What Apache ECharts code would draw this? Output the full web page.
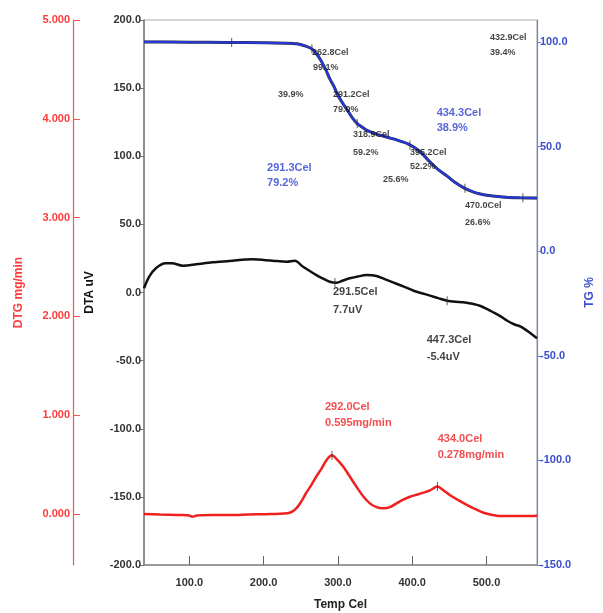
<!DOCTYPE html>
<html>
<head>
<meta charset="utf-8">
<script src="https://cdn.jsdelivr.net/npm/echarts@6/dist/echarts.min.js"></script>
<style>
html,body{margin:0;padding:0;background:#fff;}
#chart{width:603px;height:613px;}
</style>
</head>
<body>
<div id="chart"></div>
<script>
// ---------- data ----------
const xTicks = [100, 200, 300, 400, 500];
const dtaTicks = [-200, -150, -100, -50, 0, 50, 100, 150, 200];
const dtgTicks = [0, 1, 2, 3, 4, 5];
const tgTicks = [-150, -100, -50, 0, 50, 100];

// TG (%) curve
const tgTemp = [39, 60, 100, 150, 200, 230, 245, 255, 265, 272, 278, 284, 289, 295, 300, 306, 312, 319, 326, 333, 340, 350, 361, 372, 384, 395, 406, 415, 424, 435, 447, 458, 469, 480, 492, 503, 515, 530, 545, 568];
const tgVal  = [100.0, 100.0, 99.9, 99.8, 99.6, 99.4, 99.1, 98.2, 96.7, 94.0, 90.6, 86.5, 82.5, 78.5, 74.5, 71.0, 67.8, 64.0, 61.0, 59.2, 57.6, 56.2, 55.0, 53.9, 52.6, 51.2, 48.8, 46.0, 42.6, 39.0, 35.9, 32.8, 30.4, 28.6, 27.3, 26.6, 26.1, 25.7, 25.5, 25.4];

// DTA (uV) curve
const dtaTemp = [39, 46, 55, 68, 77, 91, 109, 131, 154, 185, 212, 231, 242, 253, 262, 271, 280, 289, 298, 307, 316, 327, 339, 352, 363, 375, 388, 402, 413, 424, 436, 447, 458, 469, 481, 492, 501, 510, 519, 528, 537, 546, 557, 568];
const dtaVal  = [3.1, 11.6, 17.8, 21.4, 21.4, 19.7, 20.7, 22.2, 23.1, 24.4, 23.3, 22.6, 23.3, 18.9, 15.8, 12.8, 10.2, 7.9, 7.2, 8.8, 10.4, 11.8, 12.8, 12.1, 9.8, 7.2, 4.5, 1.3, -0.5, -2.3, -4.3, -6.0, -6.8, -7.2, -8.3, -9.9, -12.2, -14.8, -17.5, -20.7, -23.3, -25.1, -29.0, -33.6];

// DTG (mg/min) curve
const dtgTemp = [39, 60, 90, 100, 104, 110, 130, 154, 180, 210, 235, 244, 251, 257, 264, 271, 278, 285, 292, 299, 307, 316, 325, 334, 343, 352, 361, 370, 379, 388, 397, 406, 415, 424, 434, 442, 451, 462, 474, 485, 496, 505, 514, 530, 550, 568];
const dtgVal  = [0.0, -0.005, -0.01, -0.015, -0.027, -0.015, -0.01, -0.01, -0.005, 0.0, 0.013, 0.058, 0.13, 0.21, 0.29, 0.38, 0.46, 0.55, 0.595, 0.55, 0.48, 0.38, 0.276, 0.18, 0.108, 0.07, 0.058, 0.07, 0.108, 0.145, 0.175, 0.195, 0.216, 0.24, 0.278, 0.24, 0.19, 0.14, 0.091, 0.05, 0.013, -0.005, -0.017, -0.02, -0.02, -0.017];

// marker temperatures on curves
const tgMarkTemps = [157, 265, 326, 397, 471, 549];
const dtaMarkTemps = [296, 447];
const dtgMarkTemps = [292, 434];

// annotations: [temp, DTA-scale anchor, text]
const tgNotes = [
  [265.1, 175.8, '262.8Cel'], [266.5, 164.8, '99.1%'],
  [219.4, 145.0, '39.9%'],
  [293.4, 145.0, '291.2Cel'], [293.4, 134.0, '79.0%'],
  [320.3, 115.6, '318.9Cel'], [320.3, 102.4, '59.2%'],
  [360.7, 82.6, '25.6%'],
  [397.0, 103.1, '395.2Cel'], [397.0, 92.1, '52.2%'],
  [504.7, 187.5, '432.9Cel'], [504.7, 175.8, '39.4%'],
  [471.1, 64.2, '470.0Cel'], [471.1, 51.7, '26.6%']
];
const tgBlueNotes = [
  [204.6, 91.4, '291.3Cel'], [204.6, 80.4, '79.2%'],
  [432.9, 131.7, '434.3Cel'], [432.9, 120.7, '38.9%']
];
const dtaNotes = [
  [293.4, 0.4, '291.5Cel'], [293.4, -12.8, '7.7uV'],
  [419.6, -34.9, '447.3Cel'], [419.6, -47.3, '-5.4uV']
];
const dtgNotes = [
  [282.6, -84.0, '292.0Cel'], [282.6, -95.8, '0.595mg/min'],
  [434.3, -107.5, '434.0Cel'], [434.3, -119.3, '0.278mg/min']
];

// ---------- helpers ----------
function pairs(t, v) { return t.map((x, i) => [x, v[i]]); }
function interp(t, v, x) {
  for (let i = 1; i < t.length; i++) {
    if (x <= t[i]) {
      const f = (x - t[i - 1]) / (t[i] - t[i - 1]);
      return v[i - 1] + f * (v[i] - v[i - 1]);
    }
  }
  return v[v.length - 1];
}
function marks(t, v, temps) { return temps.map(x => [x, interp(t, v, x)]); }
function notes(arr) { return arr.map(a => ({ value: [a[0], a[1]], name: a[2] })); }

const FONT = '"Liberation Sans", Arial, sans-serif';

function noteSeries(arr, color, size) {
  return {
    type: 'scatter', xAxisIndex: 0, yAxisIndex: 0, silent: true,
    symbolSize: 0, data: notes(arr), z: 10,
    label: {
      show: true, position: 'right', distance: 0,
      formatter: p => p.name, color: color, fontSize: size,
      fontWeight: 'bold', fontFamily: FONT
    }
  };
}
function markSeries(data, yIdx) {
  return {
    type: 'scatter', xAxisIndex: 0, yAxisIndex: yIdx, silent: true,
    symbol: 'rect', symbolSize: [1, 9], data: data, z: 6,
    itemStyle: { color: '#333' }
  };
}

const chart = echarts.init(document.getElementById('chart'), null, { renderer: 'canvas' });
const option = {
  animation: false,
  backgroundColor: '#fff',
  textStyle: { fontFamily: FONT },
  grid: {
    left: 144, right: 66, top: 20, bottom: 48,
    show: true, borderColor: '#aaa', borderWidth: 1,
    containLabel: false, outerBoundsMode: 'none'
  },
  xAxis: {
    type: 'value', min: 39, max: 568,
    name: 'Temp Cel', nameLocation: 'middle', nameGap: 34,
    nameTextStyle: { color: '#222', fontSize: 12, fontWeight: 'bold', fontFamily: FONT },
    axisLine: { show: true, onZero: false, lineStyle: { color: '#888', width: 1.5 } },
    axisTick: { show: true, inside: true, length: 9, customValues: xTicks, lineStyle: { color: '#666' } },
    axisLabel: { customValues: xTicks, margin: 12, color: '#333', fontSize: 11, fontWeight: 'bold', fontFamily: FONT,
      formatter: v => v.toFixed(1) },
    splitLine: { show: false }
  },
  yAxis: [
    {
      type: 'value', min: -200, max: 200, interval: 50, position: 'left',
      name: 'DTA uV', nameLocation: 'middle', nameGap: 48, nameRotate: 90,
      nameTextStyle: { color: '#111', fontSize: 12, fontWeight: 'bold', fontFamily: FONT },
      axisLine: { show: true, onZero: false, lineStyle: { color: '#777', width: 1.5 } },
      axisTick: { show: true, length: 4, lineStyle: { color: '#777' } },
      axisLabel: { margin: 3, color: '#333', fontSize: 11, fontWeight: 'bold', fontFamily: FONT,
        formatter: v => v.toFixed(1) },
      splitLine: { show: false }
    },
    {
      type: 'value', min: -0.516, max: 5, position: 'left', offset: 71,
      name: 'DTG mg/min', nameLocation: 'middle', nameGap: 48, nameRotate: 90,
      nameTextStyle: { color: '#ff3b3b', fontSize: 12, fontWeight: 'bold', fontFamily: FONT },
      axisLine: { show: true, onZero: false, lineStyle: { color: '#ff5050', width: 1.2 } },
      axisTick: { show: true, inside: true, length: 7, customValues: dtgTicks, lineStyle: { color: '#ff5050' } },
      axisLabel: { customValues: dtgTicks, margin: 3, color: '#ff3b3b', fontSize: 11, fontWeight: 'bold', fontFamily: FONT,
        formatter: v => v.toFixed(3) },
      splitLine: { show: false }
    },
    {
      type: 'value', min: -150, max: 110.5, position: 'right',
      name: 'TG %', nameLocation: 'middle', nameGap: 47, nameRotate: 90,
      nameTextStyle: { color: '#3a4fd0', fontSize: 12, fontWeight: 'bold', fontFamily: FONT },
      axisLine: { show: true, onZero: false, lineStyle: { color: '#7080e0', width: 1.2 } },
      axisTick: { show: true, length: 4, customValues: tgTicks, lineStyle: { color: '#7080e0' } },
      axisLabel: { customValues: tgTicks, margin: 3, color: '#3a4fd0', fontSize: 11, fontWeight: 'bold', fontFamily: FONT,
        formatter: v => v.toFixed(1) },
      splitLine: { show: false }
    }
  ],
  series: [
    {
      name: 'DTA', type: 'line', xAxisIndex: 0, yAxisIndex: 0, data: pairs(dtaTemp, dtaVal),
      smooth: 0.3, showSymbol: false, lineStyle: { color: '#111', width: 2.5 }, z: 3
    },
    {
      name: 'DTG', type: 'line', xAxisIndex: 0, yAxisIndex: 1, data: pairs(dtgTemp, dtgVal),
      smooth: 0.3, showSymbol: false, lineStyle: { color: '#f02020', width: 2.5 }, z: 3
    },
    {
      name: 'TG shadow', type: 'line', xAxisIndex: 0, yAxisIndex: 2, data: pairs(tgTemp, tgVal),
      smooth: 0.3, showSymbol: false, lineStyle: { color: '#333', width: 3 }, z: 3, silent: true
    },
    {
      name: 'TG', type: 'line', xAxisIndex: 0, yAxisIndex: 2, data: pairs(tgTemp, tgVal),
      smooth: 0.3, showSymbol: false, lineStyle: { color: '#2438d8', width: 2.2 }, z: 4
    },
    markSeries(marks(tgTemp, tgVal, tgMarkTemps), 2),
    markSeries(marks(dtaTemp, dtaVal, dtaMarkTemps), 0),
    markSeries(marks(dtgTemp, dtgVal, dtgMarkTemps), 1),
    noteSeries(tgNotes, '#111', 9),
    noteSeries(tgBlueNotes, '#2a3fd0', 11),
    noteSeries(dtaNotes, '#111', 11),
    noteSeries(dtgNotes, '#f02020', 11)
  ]
};
chart.setOption(option);
</script>
</body>
</html>
